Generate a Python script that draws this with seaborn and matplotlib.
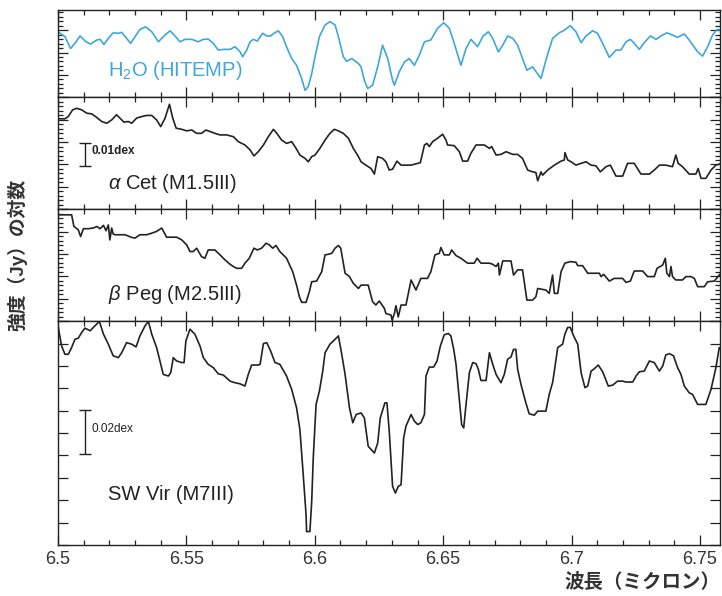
import numpy as np
import pandas as pd
import seaborn as sns
from matplotlib import pyplot as plt
from matplotlib.ticker import MultipleLocator

# wavelength in micron, log intensity in units of 0.001 dex
h2o_wl = [6.5000, 6.5027, 6.5049, 6.5066, 6.5086, 6.5109, 6.5127, 6.5151, 6.5164, 6.5179,
          6.5196, 6.5215, 6.5235, 6.5248, 6.5267, 6.5283, 6.5300, 6.5319, 6.5341, 6.5365,
          6.5391, 6.5413, 6.5436, 6.5456, 6.5475, 6.5495, 6.5521, 6.5546, 6.5566, 6.5585,
          6.5605, 6.5624, 6.5644, 6.5670, 6.5689, 6.5709, 6.5719, 6.5735, 6.5748, 6.5761,
          6.5776, 6.5797, 6.5813, 6.5828, 6.5841, 6.5858, 6.5875, 6.5890, 6.5910, 6.5929,
          6.5949, 6.5962, 6.5975, 6.5988, 6.6001, 6.6018, 6.6040, 6.6059, 6.6079, 6.6092,
          6.6111, 6.6124, 6.6144, 6.6170,
          6.6180, 6.6193, 6.6206, 6.6225, 6.6245, 6.6264, 6.6284, 6.6303, 6.6310, 6.6329,
          6.6349, 6.6368, 6.6388, 6.6407, 6.6427, 6.6452, 6.6478, 6.6502, 6.6524, 6.6543,
          6.6569, 6.6589, 6.6608, 6.6634, 6.6654, 6.6676, 6.6693, 6.6715, 6.6732, 6.6751,
          6.6771, 6.6790, 6.6809, 6.6826, 6.6848, 6.6881, 6.6900, 6.6926, 6.6952, 6.6972,
          6.6995, 6.7017, 6.7037, 6.7056, 6.7082, 6.7101, 6.7121, 6.7147, 6.7173, 6.7192,
          6.7212, 6.7229, 6.7244, 6.7264, 6.7283, 6.7307, 6.7329, 6.7348, 6.7371, 6.7393,
          6.7413, 6.7439, 6.7458, 6.7491, 6.7510, 6.7530, 6.7549, 6.7566, 6.7586]
h2o_val = [29.3, 27.1, 21.8, 24.1, 27.4, 24.8, 23.8, 25.6, 25.9, 23.6,
           26.3, 28.8, 28.6, 29.0, 26.3, 24.1, 27.1, 30.3, 31.5, 29.3,
           24.8, 27.4, 29.7, 27.4, 24.8, 25.9, 25.9, 24.8, 25.9, 26.0,
           24.1, 21.1, 21.4, 21.4, 22.6, 20.3, 18.1, 21.1, 24.8, 25.9,
           25.1, 28.6, 27.4, 27.4, 28.6, 29.7, 27.1, 22.6, 17.3, 14.3,
           8.4, 3.1, 4.9, 10.6, 18.1, 27.1, 32.3, 33.8, 32.3, 27.1,
           18.1, 16.1, 17.3, 15.1,
           13.6, 7.6, 3.9, 5.4, 13.6, 23.3, 17.3, 7.6, 5.4, 11.4,
           15.8, 17.3, 14.3, 18.8, 24.8, 25.6, 30.8, 33.3, 30.8, 24.1,
           14.3, 21.8, 25.9, 22.6, 27.1, 29.3, 26.3, 20.3, 23.3, 27.4,
           26.3, 23.3, 17.3, 12.1, 13.6, 8.4, 16.6, 26.3, 28.8, 30.0,
           32.0, 29.3, 24.4, 27.4, 29.7, 28.6, 24.1, 17.8, 21.1, 21.1,
           24.8, 25.9, 24.1, 21.4, 24.4, 27.4, 25.9, 27.4, 28.8, 27.8,
           26.8, 28.3, 25.6, 20.3, 18.4, 22.6, 27.8, 30.3, 30.0]

acet_wl = [6.5000, 6.5027, 6.5040, 6.5057, 6.5073, 6.5092, 6.5112, 6.5131, 6.5151, 6.5170,
           6.5190, 6.5209, 6.5228, 6.5241, 6.5257, 6.5274, 6.5287, 6.5306, 6.5326, 6.5345,
           6.5365, 6.5384, 6.5400, 6.5417, 6.5434, 6.5447, 6.5460, 6.5482, 6.5501, 6.5521,
           6.5540, 6.5559, 6.5576, 6.5592, 6.5611, 6.5631, 6.5657, 6.5683, 6.5702, 6.5728,
           6.5748, 6.5763, 6.5780, 6.5800, 6.5819, 6.5839, 6.5852, 6.5871, 6.5890, 6.5910,
           6.5927, 6.5942, 6.5962, 6.5975, 6.5988, 6.6001, 6.6020, 6.6040, 6.6059, 6.6076,
           6.6092, 6.6111, 6.6131, 6.6150, 6.6170,
           6.6180, 6.6199, 6.6219, 6.6232, 6.6245, 6.6264, 6.6277, 6.6290, 6.6303, 6.6320,
           6.6336, 6.6375, 6.6411, 6.6427, 6.6437, 6.6446, 6.6459, 6.6478, 6.6498, 6.6511,
           6.6517, 6.6543, 6.6563, 6.6576, 6.6595, 6.6608, 6.6628, 6.6660, 6.6680, 6.6689,
           6.6706, 6.6725, 6.6745, 6.6771, 6.6790, 6.6809, 6.6829, 6.6848, 6.6861, 6.6868,
           6.6881, 6.6887, 6.6907, 6.6933, 6.6959, 6.6972, 6.6974, 6.6985, 6.6998, 6.7017,
           6.7037, 6.7056, 6.7076, 6.7095, 6.7112, 6.7134, 6.7151, 6.7173, 6.7199, 6.7218,
           6.7244, 6.7270, 6.7303, 6.7322, 6.7342, 6.7367, 6.7393, 6.7406, 6.7415, 6.7432,
           6.7458, 6.7484, 6.7493, 6.7504, 6.7523, 6.7543, 6.7562, 6.7586]
acet_val = [40.4, 40.4, 41.4, 44.4, 45.1, 44.4, 42.9, 42.6, 41.0, 39.2,
            38.4, 39.9, 42.2, 40.7, 38.9, 39.2, 38.4, 40.7, 41.4, 41.9,
            41.9, 39.9, 36.9, 40.7, 46.9, 40.7, 36.2, 35.7, 35.0, 35.4,
            33.9, 33.9, 35.4, 34.7, 33.9, 33.2, 33.2, 32.4, 30.2, 28.7,
            26.5, 23.8, 25.7, 28.7, 32.4, 35.7, 33.9, 30.9, 29.4, 30.2,
            27.2, 24.2, 22.7, 21.2, 23.5, 24.2, 27.2, 30.9, 33.9, 35.7,
            35.0, 33.9, 31.7, 27.2, 23.5,
            21.2, 19.7, 18.2, 15.7, 23.5, 22.7, 21.2, 17.5, 17.9, 21.5,
            19.7, 19.7, 20.8, 28.7, 29.4, 28.0, 30.2, 31.7, 33.5, 30.9,
            28.7, 28.4, 25.7, 21.5, 21.5, 25.0, 28.7, 28.7, 27.2, 28.0,
            24.2, 24.5, 25.7, 24.5, 24.5, 22.7, 17.5, 16.7, 16.4, 12.7,
            16.7, 15.2, 17.5, 19.7, 21.5, 22.0, 25.3, 22.0, 21.2, 19.7,
            20.5, 21.2, 19.7, 19.4, 16.7, 19.0, 19.7, 14.8, 14.8, 20.5,
            20.5, 15.7, 15.7, 17.5, 19.7, 19.7, 19.0, 24.2, 20.5, 19.0,
            15.7, 15.7, 18.2, 13.8, 13.8, 17.5, 19.7, 20.5]

bpeg_wl = [6.5000, 6.5053, 6.5062, 6.5079, 6.5088, 6.5099, 6.5118, 6.5138, 6.5151, 6.5164,
           6.5177, 6.5187, 6.5196, 6.5202, 6.5209, 6.5215, 6.5222, 6.5261, 6.5287, 6.5300,
           6.5319, 6.5345, 6.5365, 6.5384, 6.5404, 6.5423, 6.5462, 6.5482, 6.5501, 6.5514,
           6.5527, 6.5540, 6.5559, 6.5572, 6.5585, 6.5611, 6.5631, 6.5650, 6.5670, 6.5683,
           6.5696, 6.5715, 6.5728, 6.5745, 6.5763, 6.5776, 6.5793, 6.5810, 6.5823, 6.5836,
           6.5849, 6.5864, 6.5890, 6.5914, 6.5929, 6.5940, 6.5949, 6.5966, 6.5979, 6.5988,
           6.6007, 6.6027, 6.6040, 6.6053, 6.6066, 6.6079, 6.6092, 6.6101, 6.6118, 6.6135,
           6.6150, 6.6170,
           6.6180, 6.6208, 6.6225, 6.6238, 6.6251, 6.6271, 6.6277, 6.6297, 6.6301, 6.6310,
           6.6316, 6.6325, 6.6336, 6.6355, 6.6375, 6.6394, 6.6413, 6.6439, 6.6452, 6.6468,
           6.6485, 6.6491, 6.6504, 6.6524, 6.6533, 6.6550, 6.6569, 6.6595, 6.6621, 6.6632,
           6.6647, 6.6680, 6.6693, 6.6706, 6.6715, 6.6719, 6.6732, 6.6764, 6.6774, 6.6790,
           6.6809, 6.6826, 6.6848, 6.6861, 6.6868, 6.6900, 6.6913, 6.6926, 6.6933, 6.6946,
           6.6959, 6.6974, 6.6995, 6.7017, 6.7024, 6.7043, 6.7063, 6.7108, 6.7115, 6.7125,
           6.7147, 6.7166, 6.7199, 6.7212, 6.7229, 6.7244, 6.7277, 6.7296, 6.7322, 6.7333,
           6.7355, 6.7365, 6.7371, 6.7381, 6.7387, 6.7393, 6.7406, 6.7432, 6.7445, 6.7465,
           6.7478, 6.7491, 6.7517, 6.7530, 6.7556, 6.7575, 6.7586]
bpeg_val = [47.5, 47.5, 42.3, 40.8, 37.8, 41.3, 41.3, 41.6, 42.3, 41.3,
            42.8, 40.4, 43.0, 36.3, 41.6, 38.9, 38.6, 38.6, 37.4, 37.1,
            38.6, 38.6, 39.3, 40.1, 41.6, 37.5, 37.5, 36.3, 34.1, 31.1,
            31.1, 32.6, 28.8, 28.1, 31.8, 31.8, 29.6, 27.4, 25.4, 24.4,
            23.6, 23.6, 25.9, 28.1, 32.6, 31.8, 32.6, 34.8, 34.1, 32.6,
            33.8, 31.1, 28.1, 22.1, 16.1, 10.9, 8.4, 8.4, 13.2, 17.6,
            17.9, 22.1, 29.6, 29.9, 30.3, 32.6, 33.8, 32.6, 21.4, 19.9,
            16.9, 14.6,
            16.1, 16.1, 8.7, 7.2, 9.0, 5.7, 3.4, 2.7, 0.4, 3.4,
            6.9, 1.9, 7.2, 7.2, 18.4, 13.9, 19.1, 19.1, 22.1, 29.6,
            30.3, 32.9, 29.6, 29.6, 31.8, 29.3, 28.1, 25.9, 25.9, 28.1,
            25.9, 25.9, 25.4, 24.4, 25.9, 20.6, 26.9, 26.9, 20.6, 22.9,
            22.9, 9.4, 9.4, 10.9, 14.6, 13.9, 12.4, 20.6, 12.4, 12.4,
            22.1, 25.9, 26.6, 26.3, 24.8, 24.8, 21.4, 21.4, 19.9, 20.9,
            17.9, 19.1, 19.1, 17.3, 17.9, 22.4, 22.4, 19.9, 19.9, 23.6,
            25.1, 28.1, 21.4, 19.9, 24.4, 19.9, 18.4, 18.4, 19.9, 19.9,
            19.1, 15.4, 15.4, 17.6, 17.9, 20.6, 22.1]

swvir_wl = [6.5000, 6.5014, 6.5027, 6.5040, 6.5053, 6.5066, 6.5079, 6.5092, 6.5105, 6.5125,
            6.5144, 6.5161, 6.5177, 6.5196, 6.5215, 6.5235, 6.5248, 6.5267, 6.5287, 6.5304,
            6.5319, 6.5339, 6.5352, 6.5365, 6.5384, 6.5400, 6.5410, 6.5430, 6.5439, 6.5449,
            6.5462, 6.5482, 6.5491, 6.5498, 6.5514, 6.5533, 6.5553, 6.5566, 6.5585, 6.5605,
            6.5624, 6.5644, 6.5670, 6.5689, 6.5709, 6.5728, 6.5741, 6.5754, 6.5780, 6.5787,
            6.5800, 6.5813, 6.5828, 6.5845, 6.5864, 6.5890, 6.5910, 6.5929, 6.5942, 6.5955,
            6.5966, 6.5968, 6.5981, 6.5988, 6.5994, 6.6005, 6.6018, 6.6031, 6.6040, 6.6059,
            6.6079, 6.6092, 6.6105, 6.6118, 6.6135, 6.6148, 6.6161,
            6.6180, 6.6193, 6.6208, 6.6232, 6.6245, 6.6255, 6.6273, 6.6281, 6.6290, 6.6303,
            6.6314, 6.6325, 6.6336, 6.6346, 6.6355, 6.6375, 6.6388, 6.6401, 6.6413, 6.6427,
            6.6433, 6.6446, 6.6463, 6.6476, 6.6489, 6.6504, 6.6520, 6.6530, 6.6541, 6.6550,
            6.6563, 6.6572, 6.6580, 6.6589, 6.6602, 6.6615, 6.6628, 6.6637, 6.6647, 6.6667,
            6.6680, 6.6693, 6.6706, 6.6725, 6.6738, 6.6751, 6.6764, 6.6774, 6.6783, 6.6790,
            6.6803, 6.6822, 6.6835, 6.6855, 6.6868, 6.6900, 6.6913, 6.6926, 6.6933, 6.6946,
            6.6965, 6.6974, 6.6985, 6.6995, 6.7008, 6.7024, 6.7037, 6.7052, 6.7063, 6.7076,
            6.7086, 6.7104, 6.7121, 6.7143, 6.7160, 6.7179, 6.7199, 6.7212, 6.7238, 6.7251,
            6.7264, 6.7283, 6.7303, 6.7322, 6.7342, 6.7355, 6.7367, 6.7381, 6.7397, 6.7413,
            6.7426, 6.7439, 6.7458, 6.7471, 6.7491, 6.7523, 6.7543, 6.7562, 6.7575, 6.7586]
swvir_val = [97.9, 88.9, 85.2, 85.2, 88.2, 91.9, 92.4, 94.9, 96.9, 95.7,
             97.9, 99.9, 94.2, 89.7, 84.5, 83.7, 85.9, 90.4, 89.7, 88.5,
             93.4, 97.9, 99.9, 94.2, 88.2, 80.7, 76.2, 75.5, 77.0, 83.7,
             82.2, 81.5, 81.5, 91.2, 96.4, 94.2, 88.9, 83.7, 80.7, 79.2,
             76.5, 75.9, 73.2, 72.5, 72.0, 71.0, 76.2, 80.4, 80.4, 80.7,
             90.0, 90.4, 86.7, 81.5, 80.7, 75.5, 69.5, 61.3, 51.6, 31.4,
             13.5, 6.0, 6.0, 19.4, 38.9, 62.8, 68.8, 77.7, 85.9, 89.7,
             91.9, 93.4, 85.2, 76.2, 61.3, 54.6, 58.3,
             59.0, 56.8, 44.1, 41.1, 45.6, 56.8, 63.5, 63.5, 50.8, 26.2,
             23.2, 26.2, 26.9, 47.8, 53.1, 58.3, 55.3, 53.8, 54.6, 58.3,
             75.5, 79.5, 79.5, 82.2, 88.9, 93.9, 94.5, 93.4, 87.4, 80.7,
             65.0, 53.8, 52.3, 62.8, 77.0, 81.5, 81.0, 78.5, 73.5, 73.5,
             85.9, 80.7, 76.2, 72.5, 76.2, 83.0, 84.0, 87.4, 87.4, 78.5,
             71.7, 63.5, 58.6, 58.0, 59.8, 59.8, 67.3, 72.5, 77.7, 88.2,
             89.7, 94.2, 97.2, 97.2, 93.4, 89.7, 77.0, 70.3, 71.0, 77.7,
             78.5, 80.4, 77.4, 71.0, 71.4, 73.2, 73.2, 72.8, 72.8, 75.5,
             77.4, 77.7, 82.2, 81.5, 77.7, 80.0, 84.9, 85.5, 84.5, 79.2,
             76.2, 71.0, 68.0, 67.3, 62.8, 62.8, 69.5, 79.2, 88.2, 86.7]

# panel ranges (0.001 dex) and labels
panel_span = [39, 50, 50, 100]
panel_names = [r'H$_2$O (HITEMP)', r'$\alpha$ Cet (M1.5III)', r'$\beta$ Peg (M2.5III)', 'SW Vir (M7III)']
panel_colors = ['#3fa7d9', '#222222', '#222222', '#222222']
name_y = [12, 11.7, 11.7, 22.4]
scale_bar_dex = [None, 0.01, None, 0.02]
scale_bar_mid = [None, 24.5, None, 50.5]
x_ticks = [6.5, 6.55, 6.6, 6.65, 6.7, 6.75]
x_ticklabels = ['6.5', '6.55', '6.6', '6.65', '6.7', '6.75']

sns.set_style("ticks")
plt.rcParams['font.family'] = ['Liberation Sans', 'Noto Sans CJK JP', 'DejaVu Sans']
plt.rcParams['mathtext.fontset'] = 'custom'
plt.rcParams['mathtext.rm'] = 'Liberation Sans'
plt.rcParams['mathtext.it'] = 'Liberation Sans:italic'

series = [(h2o_wl, h2o_val), (acet_wl, acet_val), (bpeg_wl, bpeg_val), (swvir_wl, swvir_val)]

fig, axes = plt.subplots(4, 1, sharex=True, figsize=(7.22, 5.96), dpi=100,
                         gridspec_kw=dict(height_ratios=panel_span, hspace=0))
fig.subplots_adjust(left=58/722, right=720/722, top=1-10/596, bottom=1-545/596)

for i, ax in enumerate(axes):
    wl, val = series[i]
    df = pd.DataFrame({'wl': wl, 'val': val})
    sns.lineplot(data=df, x='wl', y='val', ax=ax, color=panel_colors[i], lw=1.2,
                 estimator=None, sort=False)
    ax.set_ylim(0, panel_span[i])
    ax.set_xlim(6.5, 6.7578)
    ax.set_xlabel('')
    ax.set_ylabel('')
    ax.yaxis.set_major_locator(MultipleLocator(10))
    if i < 3:
        ax.yaxis.set_minor_locator(MultipleLocator(2))
    ax.set_yticklabels([])
    ax.xaxis.set_major_locator(MultipleLocator(0.05))
    ax.xaxis.set_minor_locator(MultipleLocator(0.01))
    ax.tick_params(which='both', direction='in', top=True, bottom=True, left=True, right=True,
                   color='#222222', width=0.9)
    ax.tick_params(which='major', length=7)
    ax.tick_params(which='minor', length=3.5)
    for s in ax.spines.values():
        s.set_color('#222222')
        s.set_linewidth(1.0)
    ax.text(6.5195, name_y[i], panel_names[i], color=panel_colors[i], fontsize=14.5,
            va='center', ha='left')
    if scale_bar_dex[i] is not None:
        half = scale_bar_dex[i] * 1000 / 2
        ax.errorbar([6.5105], [scale_bar_mid[i]], yerr=[half], color='#222222',
                    capsize=4, elinewidth=1, capthick=1)
        ax.text(6.5130, scale_bar_mid[i] + 1.5, '%.2fdex' % scale_bar_dex[i], fontsize=8.5,
                fontweight='bold' if i == 1 else 'normal', va='center', ha='left', color='#222222')

axes[-1].set_xticks(x_ticks)
axes[-1].set_xticklabels(x_ticklabels, fontsize=13, color='#333333')
axes[-1].tick_params(axis='x', pad=4)

fig.text(720/722, 1-582/596, '波長（ミクロン）', ha='right', va='center', fontsize=14,
         fontweight='bold', color='#333333')
fig.text(17/722, 1-255/596, '強度（Jy）の対数', rotation=90, ha='center', va='center',
         fontsize=13.5, fontweight='bold', color='#333333')

fig.savefig('out.png', dpi=100)
